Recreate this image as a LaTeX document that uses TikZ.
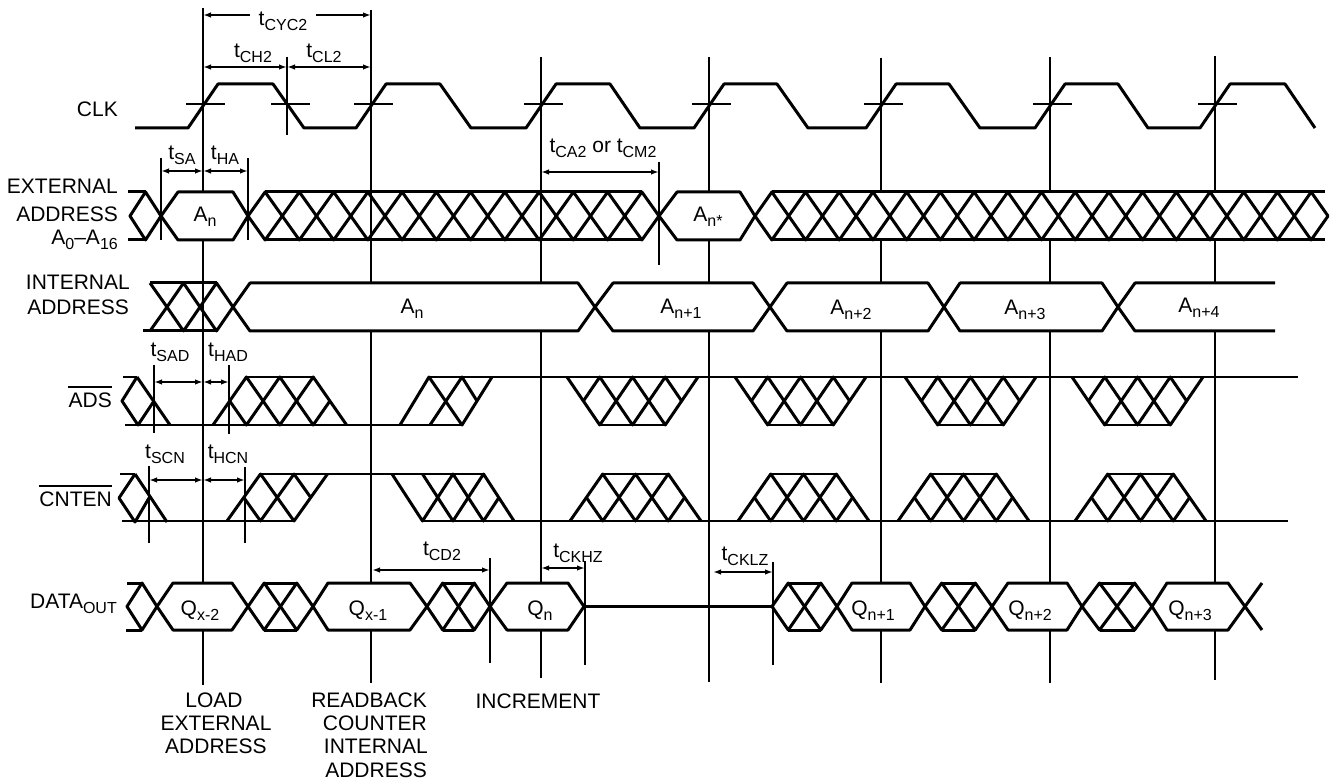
\documentclass[tikz,border=0pt]{standalone}
\usepackage{fontspec}
\setmainfont{Liberation Sans}
\usetikzlibrary{arrows.meta}
\newcommand\ts[2]{#1\raisebox{-5pt}{\fontsize{16}{16}\selectfont #2}}
\newcommand\hchain[5]{%
  \pgfmathsetmacro\hcd{(#2-#1)/#3}%
  \pgfmathsetmacro\hcm{(#4+#5)/2}%
  \foreach \hci in {1,...,#3}{%
    \pgfmathsetmacro\hcx{#1+(\hci-1)*\hcd}%
    \draw[sig] (\hcx,\hcm) -- (\hcx+\hcd/2,#4) -- (\hcx+\hcd,\hcm) -- (\hcx+\hcd/2,#5) -- cycle;
  }%
}
\newcommand\htrap[4]{%
  \pgfmathsetmacro\htm{(#3+#4)/2}%
  \draw[sig] (#1,#3) -- (#1+#2,#4) -- (#1+2*#2,#3) -- (#1+3*#2,#4) -- (#1+4*#2,#3);
  \draw[sig] (#1+0.5*#2,\htm) -- (#1+#2,#3) -- (#1+2*#2,#4) -- (#1+3*#2,#3) -- (#1+3.5*#2,\htm);
  \draw[lvl] (#1+#2,#4) -- (#1+3*#2,#4);
}
\begin{document}
\begin{tikzpicture}[x=1pt,y=-1pt,
  sig/.style={line width=3pt,line join=round},
  lvl/.style={line width=2.4pt},
  vline/.style={line width=1.6pt},
  dim/.style={line width=1.6pt,-{Latex[length=8pt,width=5.5pt]}},
  dimb/.style={line width=1.6pt,{Latex[length=8pt,width=5.5pt]}-{Latex[length=8pt,width=5.5pt]}},
  every node/.style={inner sep=0pt,font=\fontsize{21}{24}\selectfont}]
\useasboundingbox (0,0) rectangle (1333,783);

% ---------- clock reference lines ----------
\draw[vline] (203,8) -- (203,685);
\draw[vline] (371,10) -- (371,683);
\draw[vline] (541,57) -- (541,678);
\draw[vline] (709,57) -- (709,682);
\draw[vline] (881,58) -- (881,683);
\draw[vline] (1050,57) -- (1050,683);
\draw[vline] (1215,56) -- (1215,680);
\draw[vline] (287,57) -- (287,135);
% timing ticks
\draw[vline] (161,158) -- (161,240);
\draw[vline] (248,158) -- (248,240);
\draw[vline] (659,162) -- (659,265);
\draw[vline] (154,365) -- (154,433);
\draw[vline] (229,365) -- (229,434);
\draw[vline] (149,466) -- (149,543);
\draw[vline] (245,467) -- (245,543);
\draw[vline] (490,558) -- (490,663);
\draw[vline] (585,561) -- (585,665);
\draw[vline] (773,562) -- (773,665);

% ---------- CLK ----------
\draw[sig] (135,128) -- (188,128) -- (218,84) -- (273,84) -- (304,128) -- (356,128)
  -- (386,84) -- (440,84) -- (471,128) -- (526,128) -- (556,84) -- (610,84) -- (640,128)
  -- (694,128) -- (724,84) -- (777,84) -- (808,128) -- (866,128) -- (896,84) -- (949,84)
  -- (980,128) -- (1035,128) -- (1065,84) -- (1118,84) -- (1148,128) -- (1200,128)
  -- (1230,84) -- (1285,84) -- (1315,128);
\foreach \e in {203,371,541,709,881,1050,1215}{\draw[vline] (\e-17,104) -- (\e+22,104);}
\draw[vline] (271,104) -- (310,104);

% ---------- EXTERNAL ADDRESS ----------
\hchain{130}{161}{1}{192}{240}
\draw[sig] (128,192) -- (145.5,192);
\draw[sig] (128,240) -- (145.5,240);
\hchain{248}{659}{12}{192}{240}
\draw[sig] (265,192) -- (642,192);
\draw[sig] (265,240) -- (642,240);
\fill[white] (755,216) -- (772,192) -- (1325,192) -- (1328,216) -- (1325,240) -- (772,240) -- cycle;
\hchain{755}{1328}{17}{192}{240}
\draw[sig] (772,192) -- (1325,192);
\draw[sig] (772,240) -- (1325,240);
\filldraw[sig,fill=white] (161,216) -- (178,192) -- (233,192) -- (248,216) -- (233,240) -- (178,240) -- cycle;
\filldraw[sig,fill=white] (659,216) -- (677,192) -- (740,192) -- (755,216) -- (740,240) -- (677,240) -- cycle;

% ---------- INTERNAL ADDRESS ----------
\draw[sig] (150,283) -- (167,307) -- (150,331);
\hchain{167}{233}{2}{283}{331}
\draw[sig] (150,283) -- (216.5,283);
\draw[sig] (143,331) -- (216.5,331);
\filldraw[sig,fill=white] (233,307) -- (250,283) -- (578,283) -- (595,307) -- (578,331) -- (250,331) -- cycle;
\filldraw[sig,fill=white] (595,307) -- (613,283) -- (753,283) -- (770,307) -- (753,331) -- (613,331) -- cycle;
\filldraw[sig,fill=white] (770,307) -- (787,283) -- (928,283) -- (944,307) -- (928,331) -- (787,331) -- cycle;
\filldraw[sig,fill=white] (944,307) -- (960,283) -- (1102,283) -- (1118,307) -- (1102,331) -- (960,331) -- cycle;
\fill[white] (1118,307) -- (1135,283) -- (1275,283) -- (1275,331) -- (1135,331) -- cycle;
\draw[sig] (1275,283) -- (1135,283) -- (1118,307) -- (1135,331) -- (1275,331);

% ---------- ADS ----------
\draw[lvl] (123,377) -- (137,377);
\draw[sig] (137,377) -- (122,401) -- (138,425) -- (154,401);
\draw[sig] (137,377) -- (170,425);
\draw[lvl] (125,425) -- (462,425);
\htrap{213}{33.4}{425}{377}
\draw[sig] (400,425) -- (429,377) -- (462,425) -- (492,377);
\draw[sig] (430,425) -- (462,377) -- (477,401);
\draw[lvl] (429,377) -- (1298,377);
\foreach \xo in {567,735,905,1072}{\htrap{\xo}{32.75}{377}{425}}

% ---------- CNTEN ----------
\draw[lvl] (120,474) -- (135,474);
\draw[sig] (135,474) -- (119,498) -- (135,522) -- (149,498);
\draw[sig] (135,474) -- (167,522);
\draw[lvl] (122,521) -- (294,521);
\draw[sig] (227,521) -- (260.5,474) -- (294,521) -- (327.5,474);
\draw[sig] (243.75,497.5) -- (260.5,521) -- (294,474) -- (310.75,497.5);
\draw[lvl] (260.5,474) -- (483.5,474);
\draw[sig] (392,474) -- (422.5,521) -- (453,474) -- (483.5,521) -- (499,497.5);
\draw[sig] (422.5,474) -- (453,521) -- (483.5,474) -- (514,521);
\draw[lvl] (422.5,521) -- (1288,521);
\foreach \xo in {570,738,898,1075}{\htrap{\xo}{32.75}{521}{474}}

% ---------- DATA OUT ----------
\hchain{127}{157}{1}{583}{630}
\draw[sig] (127,583) -- (142,583);
\draw[sig] (126,630) -- (142,630);
\filldraw[sig,fill=white] (157,606.5) -- (173,583) -- (232,583) -- (248,606.5) -- (232,630) -- (173,630) -- cycle;
\hchain{248}{313}{2}{583}{630}
\draw[sig] (264,583) -- (297,583);
\draw[sig] (264,630) -- (297,630);
\filldraw[sig,fill=white] (313,606.5) -- (328,583) -- (410,583) -- (427,606.5) -- (410,630) -- (328,630) -- cycle;
\hchain{427}{490}{2}{583}{630}
\draw[sig] (443,583) -- (474,583);
\draw[sig] (443,630) -- (474,630);
\filldraw[sig,fill=white] (490,606.5) -- (507,583) -- (568,583) -- (584,606.5) -- (568,630) -- (507,630) -- cycle;
\draw[sig] (584,606.5) -- (771,606.5);
\hchain{772}{837}{2}{583}{630}
\draw[sig] (788,583) -- (821,583);
\draw[sig] (788,630) -- (821,630);
\filldraw[sig,fill=white] (837,606.5) -- (852,583) -- (910,583) -- (925,606.5) -- (910,630) -- (852,630) -- cycle;
\hchain{925}{992}{2}{583}{630}
\draw[sig] (942,583) -- (975,583);
\draw[sig] (942,630) -- (975,630);
\filldraw[sig,fill=white] (992,606.5) -- (1008,583) -- (1067,583) -- (1082,606.5) -- (1067,630) -- (1008,630) -- cycle;
\hchain{1082}{1152}{2}{583}{630}
\draw[sig] (1100,583) -- (1135,583);
\draw[sig] (1100,630) -- (1135,630);
\filldraw[sig,fill=white] (1152,606.5) -- (1167,583) -- (1228,583) -- (1245,606.5) -- (1228,630) -- (1167,630) -- cycle;
\draw[sig] (1245,606.5) -- (1262,583);
\draw[sig] (1245,606.5) -- (1262,630);

% ---------- dimension arrows ----------
\draw[dim] (250,15) -- (203,15);
\draw[dim] (316,15) -- (371,15);
\draw[dimb] (203,67) -- (287,67);
\draw[dimb] (287,67) -- (371,67);
\draw[dimb] (161,171) -- (203,171);
\draw[dimb] (203,171) -- (248,171);
\draw[dimb] (541,172) -- (659,172);
\draw[dimb] (154,382) -- (203,382);
\draw[dimb] (203,382) -- (229,382);
\draw[dimb] (149,480) -- (203,480);
\draw[dimb] (203,480) -- (245,480);
\draw[dimb] (372,570) -- (490,570);
\draw[dimb] (541,568) -- (585,568);
\draw[dimb] (713,572) -- (773,572);

% ---------- timing labels ----------
\node[anchor=base] (tcyc) at (283,26) {\ts{t}{CYC2}};
\node[anchor=base] (tch) at (253,58) {\ts{t}{CH2}};
\node[anchor=base] (tcl) at (324,58) {\ts{t}{CL2}};
\node[anchor=base] (tsa) at (182,160) {\ts{t}{SA}};
\node[anchor=base] (tha) at (225,160) {\ts{t}{HA}};
\node[anchor=base] (tca) at (603,153) {\ts{t}{CA2} or \ts{t}{CM2}};
\node[anchor=base] (tsad) at (170,357) {\ts{t}{SAD}};
\node[anchor=base] (thad) at (228,357) {\ts{t}{HAD}};
\node[anchor=base] (tscn) at (165,458) {\ts{t}{SCN}};
\node[anchor=base] (thcn) at (228,458) {\ts{t}{HCN}};
\node[anchor=base] (tcd) at (442,555) {\ts{t}{CD2}};
\node[anchor=base] (tckhz) at (578,557) {\ts{t}{CKHZ}};
\node[anchor=base] (tcklz) at (745,560) {\ts{t}{CKLZ}};

% ---------- value labels ----------
\node[anchor=base] (xan) at (205,222) {\ts{A}{n}};
\node[anchor=base] (xans) at (708,222) {\ts{A}{n*}};
\node[anchor=base] (ian) at (412,314) {\ts{A}{n}};
\node[anchor=base] (ian1) at (681,314) {\ts{A}{n+1}};
\node[anchor=base] (ian2) at (851,315) {\ts{A}{n+2}};
\node[anchor=base] (ian3) at (1025,315) {\ts{A}{n+3}};
\node[anchor=base] (ian4) at (1199,313) {\ts{A}{n+4}};
\node[anchor=base] (qx2) at (200,615) {\ts{Q}{x-2}};
\node[anchor=base] (qx1) at (368,615) {\ts{Q}{x-1}};
\node[anchor=base] (qn) at (540,615) {\ts{Q}{n}};
\node[anchor=base] (qn1) at (873,615) {\ts{Q}{n+1}};
\node[anchor=base] (qn2) at (1030,615) {\ts{Q}{n+2}};
\node[anchor=base] (qn3) at (1190,615) {\ts{Q}{n+3}};

% ---------- signal names ----------
\node[anchor=base east] (clk) at (118,117) {CLK};
\node[anchor=base east] (ext1) at (118,194) {EXTERNAL};
\node[anchor=base east] (ext2) at (118,222) {ADDRESS};
\node[anchor=base east] (ext3) at (118,245) {\ts{A}{0}–\ts{A}{16}};
\node[anchor=base east] (int1) at (130,290) {INTERNAL};
\node[anchor=base east] (int2) at (129,315) {ADDRESS};
\node[anchor=base east] (ads) at (112,407) {ADS};
\draw[vline] ([yshift=5pt]ads.north west) -- ([yshift=5pt]ads.north east);
\node[anchor=base east] (cnten) at (112,506) {CNTEN};
\draw[vline] ([yshift=5pt]cnten.north west) -- ([yshift=5pt]cnten.north east);
\node[anchor=base east] (dout) at (117,608) {DATA\ts{}{OUT}};

% ---------- bottom notes ----------
\node[anchor=base] (ld1) at (214,707) {LOAD};
\node[anchor=base] (ld2) at (216,730) {EXTERNAL};
\node[anchor=base] (ld3) at (216,753) {ADDRESS};
\node[anchor=base east] (rb1) at (427,707) {READBACK};
\node[anchor=base east] (rb2) at (427,730) {COUNTER};
\node[anchor=base east] (rb3) at (428,753) {INTERNAL};
\node[anchor=base east] (rb4) at (427,777) {ADDRESS};
\node[anchor=base] (inc) at (538,708) {INCREMENT};
\end{tikzpicture}
\end{document}
